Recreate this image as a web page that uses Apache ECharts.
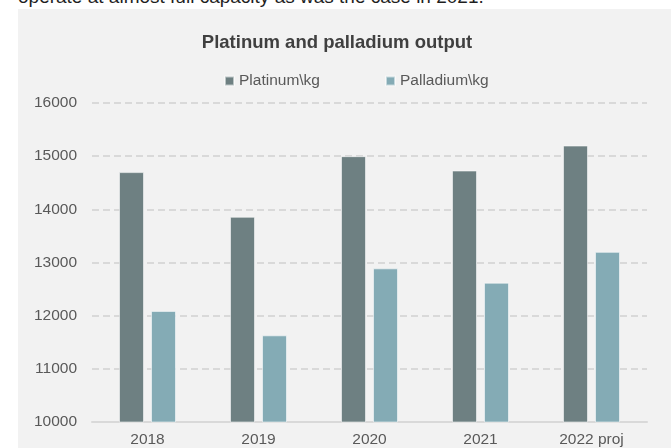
<!DOCTYPE html>
<html>
<head>
<meta charset="utf-8">
<script src="https://cdn.jsdelivr.net/npm/echarts@6/dist/echarts.min.js"></script>
<style>
  html, body { margin: 0; padding: 0; background: #ffffff; width: 671px; height: 448px; overflow: hidden; position: relative; }
  #lead {
    position: absolute; left: 18px; top: -13px; white-space: nowrap;
    font-family: "Liberation Sans", Arial, sans-serif; font-size: 19px; line-height: 19px; color: #1f1f1f;
  }
  #chart { position: absolute; left: 18px; top: 9px; width: 653px; height: 439px; background: #f2f2f2; }
</style>
</head>
<body>
<div id="lead">operate at almost full capacity as was the case in 2021.</div>
<div id="chart"></div>
<script>
// Annual output by year, kilograms
const years = ['2018', '2019', '2020', '2021', '2022 proj'];
const platinumKg = [14700, 13860, 15000, 14730, 15200];
const palladiumKg = [12090, 11630, 12890, 12620, 13200];
const seriesNames = ['Platinum\\kg', 'Palladium\\kg'];
const chartTitle = 'Platinum and palladium output';

const font = '"Liberation Sans", Arial, sans-serif';
const barBorder = { borderColor: 'rgba(255,255,255,0.55)', borderWidth: 1 };

const chart = echarts.init(document.getElementById('chart'), null, { renderer: 'canvas' });
chart.setOption({
  animation: false,
  backgroundColor: '#f2f2f2',
  title: {
    text: chartTitle,
    left: 314,
    top: 19,
    textAlign: 'center',
    textStyle: { fontFamily: font, fontSize: 18.5, fontWeight: 'bold', color: '#404040' }
  },
  legend: {
    left: 201,
    top: 59,
    itemWidth: 9,
    itemHeight: 9,
    itemGap: 65,
    icon: 'rect',
    textStyle: { fontFamily: font, fontSize: 15.5, color: '#595959' },
    data: seriesNames
  },
  grid: { left: 74, right: 24, top: 94, bottom: 23, containLabel: false },
  xAxis: {
    type: 'category',
    data: years,
    axisLine: { lineStyle: { color: '#d9d9d9', width: 2 } },
    axisTick: { show: false },
    axisLabel: { fontFamily: font, fontSize: 15.5, color: '#595959', margin: 10 }
  },
  yAxis: {
    type: 'value',
    min: 10000,
    max: 16000,
    interval: 1000,
    axisLine: { show: false },
    axisTick: { show: false },
    axisLabel: { fontFamily: font, fontSize: 15.5, color: '#595959', margin: 15, formatter: v => String(v) },
    splitLine: { lineStyle: { color: '#d9d9d9', width: 2, type: [7, 4] } }
  },
  series: [
    {
      name: seriesNames[0],
      type: 'bar',
      data: platinumKg,
      barWidth: 25,
      barGap: '28%',
      itemStyle: Object.assign({ color: '#6e8082' }, barBorder)
    },
    {
      name: seriesNames[1],
      type: 'bar',
      data: palladiumKg,
      barWidth: 25,
      barGap: '28%',
      itemStyle: Object.assign({ color: '#84abb5' }, barBorder)
    }
  ]
});
</script>
</body>
</html>
